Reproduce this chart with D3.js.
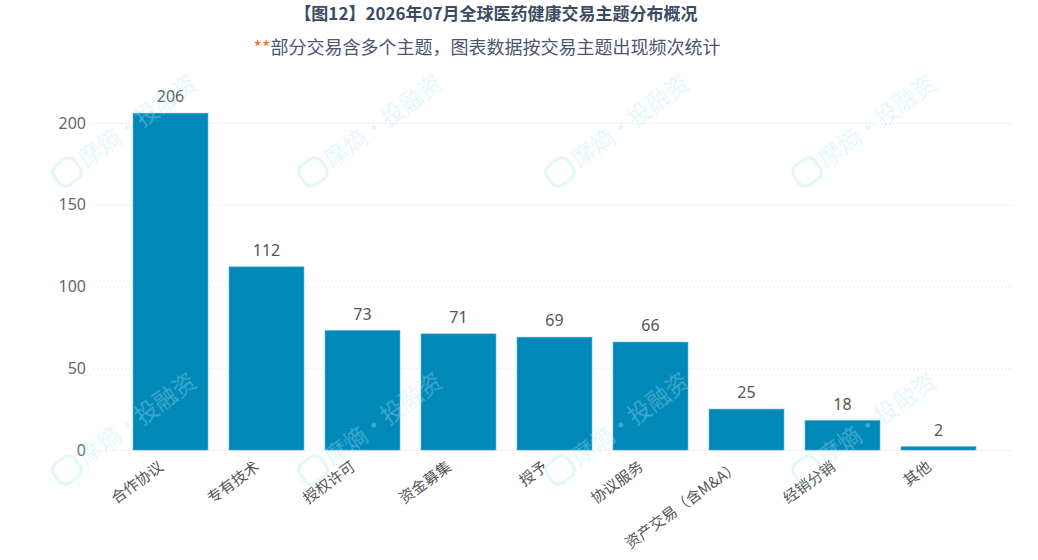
<!DOCTYPE html>
<html>
<head>
<meta charset="utf-8">
<script src="https://cdn.jsdelivr.net/npm/d3@7"></script>
<style>
  body { margin: 0; background: #fff; }
  svg { display: block; font-family: "Noto Sans CJK SC", "Noto Sans", sans-serif; }
</style>
</head>
<body>
<div id="chart"></div>
<script>
  // The data
  var categories = ["合作协议", "专有技术", "授权许可", "资金募集", "授予", "协议服务", "资产交易（含M&A）", "经销分销", "其他"];
  var counts = [206, 112, 73, 71, 69, 66, 25, 18, 2];
  var yTicks = [0, 50, 100, 150, 200];

  var width = 1038, height = 560;
  var barColor = "#0088b8";

  var svg = d3.select("#chart").append("svg")
    .attr("width", width)
    .attr("height", height);

  // Scales
  var x = d3.scaleBand()
    .domain(categories)
    .range([122.5, 986.5])
    .paddingInner(0.22)
    .paddingOuter(0.11);

  var y = d3.scaleLinear()
    .domain([0, 200])
    .range([450, 123]);

  // Gridlines
  svg.append("g")
    .selectAll("line")
    .data(yTicks)
    .join("line")
    .attr("x1", 93).attr("x2", 1013)
    .attr("y1", d => y(d) + 0.5).attr("y2", d => y(d) + 0.5)
    .attr("stroke", "#d8d8d8")
    .attr("stroke-dasharray", "1,3");

  // Y axis labels
  var yAxis = svg.append("g")
    .attr("transform", "translate(86,0)")
    .call(d3.axisLeft(y).tickValues(yTicks).tickSize(0).tickPadding(0));
  yAxis.select(".domain").remove();
  yAxis.selectAll("text")
    .attr("font-size", 16)
    .attr("font-family", "\"Noto Sans\", sans-serif")
    .attr("fill", "#666");

  // Bars
  svg.append("g")
    .selectAll("rect")
    .data(counts)
    .join("rect")
    .attr("x", (d, i) => x(categories[i]))
    .attr("y", d => y(d))
    .attr("width", x.bandwidth())
    .attr("height", d => y(0) - y(d))
    .attr("fill", barColor)
    .attr("stroke", "#3aa6cf")
    .attr("stroke-width", 0.6);

  // Value labels
  svg.append("g")
    .selectAll("text")
    .data(counts)
    .join("text")
    .attr("x", (d, i) => x(categories[i]) + x.bandwidth() / 2)
    .attr("y", d => y(d) - 11)
    .attr("text-anchor", "middle")
    .attr("font-size", 16)
    .attr("font-family", "\"Noto Sans\", sans-serif")
    .attr("fill", "#555")
    .text(d => d);

  // X axis labels, rotated
  var xAxis = svg.append("g")
    .attr("transform", "translate(0,450)")
    .call(d3.axisBottom(x).tickSize(0).tickPadding(0));
  xAxis.select(".domain").remove();
  xAxis.selectAll("text")
    .attr("font-size", 15)
    .attr("font-family", "\"Noto Sans CJK SC\", sans-serif")
    .attr("fill", "#555")
    .attr("dy", null)
    .attr("y", 0)
    .attr("transform", "translate(-6,19) rotate(-36)")
    .style("text-anchor", "end");

  // Watermarks, faint, on top of the bars
  var marks = svg.append("g").attr("opacity", 0.35).style("pointer-events", "none");
  [67, 313, 560, 807].forEach(function (wx) {
    [172, 470].forEach(function (wy) {
      var g = marks.append("g").attr("transform", `translate(${wx},${wy}) rotate(-36)`);
      g.append("rect")
        .attr("x", -13).attr("y", -12).attr("width", 26).attr("height", 24).attr("rx", 8)
        .attr("fill", "none").attr("stroke", "#aee6ea").attr("stroke-width", 3);
      g.append("text")
        .attr("x", 18).attr("y", 8)
        .attr("font-size", 23)
        .attr("fill", "#b4e6f0")
        .text("摩熵·投融资");
    });
  });

  // Title and subtitle
  svg.append("text")
    .attr("x", 496).attr("y", 20)
    .attr("text-anchor", "middle")
    .attr("font-size", 17)
    .attr("font-weight", "bold")
    .attr("fill", "#3d4a63")
    .text("【图12】2026年07月全球医药健康交易主题分布概况");

  var sub = svg.append("text")
    .attr("x", 487).attr("y", 54)
    .attr("text-anchor", "middle")
    .attr("font-size", 18)
    .attr("fill", "#4a5570");
  sub.append("tspan").attr("fill", "#f07020").text("**");
  sub.append("tspan").text("部分交易含多个主题，图表数据按交易主题出现频次统计");
</script>
</body>
</html>
